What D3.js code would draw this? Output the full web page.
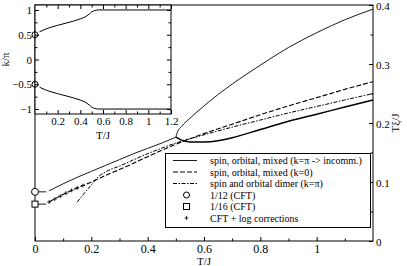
<!DOCTYPE html>
<html>
<head>
<meta charset="utf-8">
<script src="https://cdn.jsdelivr.net/npm/d3@7"></script>
<style>
  body { margin: 0; background: #fff; }
  svg { display: block; }
  svg text { font-family: "Liberation Serif", "Times New Roman", Times, serif; }
  .tick line { stroke: #000; }
  .tick text { fill: #000; }
</style>
</head>
<body>
<div id="chart"></div>
<script>
(function () {

// ---- data ----
// main panel: [T/J, Tξ/J]
const incommLow = [[0.05, 0.085], [0.1, 0.097], [0.15, 0.108], [0.2, 0.118], [0.25, 0.128],
    [0.3, 0.138], [0.35, 0.148], [0.4, 0.157], [0.45, 0.166], [0.5, 0.176]];
const incommUpper = [[0.5, 0.176], [0.505, 0.184], [0.52, 0.194], [0.55, 0.208], [0.6, 0.229],
    [0.7, 0.266], [0.8, 0.298], [0.9, 0.328], [1.0, 0.353], [1.1, 0.375], [1.2, 0.393]];
const incommLower = [[0.5, 0.176], [0.52, 0.171], [0.55, 0.168], [0.6, 0.168], [0.65, 0.170],
    [0.7, 0.175], [0.8, 0.189], [0.9, 0.203], [1.0, 0.215], [1.1, 0.227], [1.2, 0.239]];
const mixedK0 = [[0.05, 0.066], [0.1, 0.079], [0.15, 0.090], [0.2, 0.100], [0.25, 0.111],
    [0.3, 0.121], [0.4, 0.143], [0.5, 0.164], [0.6, 0.182], [0.7, 0.198], [0.8, 0.214],
    [0.9, 0.229], [1.0, 0.243], [1.1, 0.257], [1.2, 0.270]];
const dimerKpi = [[0.15, 0.066], [0.175, 0.081], [0.2, 0.095], [0.225, 0.109], [0.25, 0.117],
    [0.3, 0.127], [0.4, 0.148], [0.5, 0.166], [0.6, 0.180], [0.7, 0.193], [0.8, 0.205],
    [0.9, 0.217], [1.0, 0.228], [1.1, 0.239], [1.2, 0.250]];
const cft12 = [[0, 1 / 12], [0.04, 1 / 12]];
const cft16 = [[0, 1 / 16], [0.04, 1 / 16]];
const cftLog = [[0.05, 0.066], [0.07, 0.071], [0.09, 0.076], [0.11, 0.081], [0.13, 0.086],
    [0.15, 0.090], [0.17, 0.094]];

// inset: [T/J, k/π]
const insetUpper = [[0.04, 0.56], [0.1, 0.62], [0.2, 0.69], [0.3, 0.75], [0.4, 0.82],
    [0.45, 0.87], [0.48, 0.92], [0.5, 0.96], [0.53, 0.99], [0.56, 1.0], [1.2, 1.0]];
const insetCft = [0.5, -0.5];

const mainXTicks = [0, 0.2, 0.4, 0.6, 0.8, 1];
const mainYTicks = [0, 0.1, 0.2, 0.3, 0.4];
const insetXTicks = [0.2, 0.4, 0.6, 0.8, 1, 1.2];
const insetYTicks = [-1, -0.5, 0, 0.5, 1];

const legendLabels = [
    'spin, orbital, mixed (k=\u03c0 -> incomm.)',
    'spin, orbital, mixed (k=0)',
    'spin and orbital dimer (k=\u03c0)',
    '1/12 (CFT)',
    '1/16 (CFT)',
    'CFT + log corrections',
];

// ---- layout ----
const [WIDTH, HEIGHT] = [407, 266];
const MAIN = { left: 35, right: 373, top: 5, bottom: 241 };
const INSET = { left: 35, right: 171, top: 5, bottom: 114 };
const DASH = '5,2';
const DASHDOT = '4,1.5,1.5,1.5';

const svg = d3.select('#chart').append('svg')
    .attr('width', WIDTH)
    .attr('height', HEIGHT)
    .attr('viewBox', `0 0 ${WIDTH} ${HEIGHT}`);

const x = d3.scaleLinear().domain([0, 1.2]).range([MAIN.left, MAIN.right]);
const y = d3.scaleLinear().domain([0, 0.4]).range([MAIN.bottom, MAIN.top]);

const line = d3.line()
    .x((d) => x(d[0]))
    .y((d) => y(d[1]))
    .curve(d3.curveMonotoneX);
const straight = d3.line()
    .x((d) => x(d[0]))
    .y((d) => y(d[1]));

function drawCurve(g, data, gen, width, dash) {
    g.append('path')
        .attr('d', gen(data))
        .attr('fill', 'none')
        .attr('stroke', '#000')
        .attr('stroke-width', width)
        .attr('stroke-dasharray', dash || null);
}

// main frame
svg.append('rect')
    .attr('x', MAIN.left).attr('y', MAIN.top)
    .attr('width', MAIN.right - MAIN.left)
    .attr('height', MAIN.bottom - MAIN.top)
    .attr('fill', '#fff')
    .attr('stroke', '#000');

// bottom axis (inward ticks)
const bottom = svg.append('g')
    .attr('transform', `translate(0,${MAIN.bottom})`)
    .call(d3.axisBottom(x).tickValues(mainXTicks).tickSize(-4).tickPadding(3)
        .tickFormat(d3.format('~g')))
    .attr('font-size', 12).attr('font-family', null);
bottom.select('.domain').remove();
svg.append('g')
    .attr('transform', `translate(0,${MAIN.bottom})`)
    .call(d3.axisBottom(x).tickValues(d3.range(1, 12, 2).map((v) => v / 10))
        .tickSize(-2.5).tickFormat(''))
    .select('.domain').remove();

// right axis
const right = svg.append('g')
    .attr('transform', `translate(${MAIN.right},0)`)
    .call(d3.axisRight(y).tickValues(mainYTicks).tickSize(-4).tickPadding(3)
        .tickFormat(d3.format('~g')))
    .attr('font-size', 11).attr('font-family', null);
right.select('.domain').remove();
right.selectAll('.tick text').attr('dy', '0.4em');
svg.append('g')
    .attr('transform', `translate(${MAIN.right},0)`)
    .call(d3.axisRight(y).tickValues([0.05, 0.15, 0.25, 0.35]).tickSize(-2.5).tickFormat(''))
    .select('.domain').remove();

svg.append('text')
    .attr('x', x(0.6)).attr('y', 265)
    .attr('text-anchor', 'middle')
    .attr('font-size', 11)
    .text('T/J');
svg.append('text')
    .attr('transform', `translate(399,${(MAIN.top + MAIN.bottom) / 2}) rotate(-90)`)
    .attr('text-anchor', 'middle')
    .attr('font-size', 11)
    .text('T\u03be/J');

// curves
const plot = svg.append('g');
drawCurve(plot, incommLow, line, 0.9);
drawCurve(plot, incommUpper, line, 0.9);
drawCurve(plot, incommLower, line, 1.5);
drawCurve(plot, mixedK0, line, 1.1, DASH);
drawCurve(plot, dimerKpi, line, 1, DASHDOT);
drawCurve(plot, cft12, straight, 0.9);
drawCurve(plot, cft16, straight, 0.9);

plot.append('circle')
    .attr('cx', x(cft12[0][0])).attr('cy', y(cft12[0][1])).attr('r', 3.5)
    .attr('fill', '#fff').attr('stroke', '#000');
plot.append('rect')
    .attr('x', x(cft16[0][0]) - 3).attr('y', y(cft16[0][1]) - 3)
    .attr('width', 6).attr('height', 6)
    .attr('fill', '#fff').attr('stroke', '#000');

plot.selectAll('.plus')
    .data(cftLog)
    .enter()
    .append('path')
    .attr('class', 'plus')
    .attr('d', (d) => `M${x(d[0]) - 2},${y(d[1])}h4M${x(d[0])},${y(d[1]) - 2}v4`)
    .attr('stroke', '#000')
    .attr('stroke-width', 0.8);

// legend
const legend = svg.append('g');
legend.append('rect')
    .attr('x', 165.5).attr('y', 153.5)
    .attr('width', 205).attr('height', 74)
    .attr('fill', '#fff').attr('stroke', '#000');
const rowY = (i) => 160.5 + i * 11.5;
const sampleX = [173, 197];
const styles = [
    { w: 0.9 }, { w: 1.1, dash: DASH }, { w: 1, dash: DASHDOT },
    { sym: 'circle' }, { sym: 'square' }, { sym: 'plus' },
];
legendLabels.forEach((label, i) => {
    const cy = rowY(i);
    const s = styles[i];
    if (s.sym === 'circle') {
        legend.append('circle').attr('cx', 186.5).attr('cy', cy).attr('r', 3)
            .attr('fill', 'none').attr('stroke', '#000');
    } else if (s.sym === 'square') {
        legend.append('rect').attr('x', 183.5).attr('y', cy - 3)
            .attr('width', 6).attr('height', 6)
            .attr('fill', 'none').attr('stroke', '#000');
    } else if (s.sym === 'plus') {
        legend.append('path').attr('d', `M184.5,${cy}h4M186.5,${cy - 2}v4`)
            .attr('stroke', '#000').attr('stroke-width', 0.8);
    } else {
        legend.append('line')
            .attr('x1', sampleX[0]).attr('x2', sampleX[1])
            .attr('y1', cy).attr('y2', cy)
            .attr('stroke', '#000').attr('stroke-width', s.w)
            .attr('stroke-dasharray', s.dash || null);
    }
    legend.append('text')
        .attr('x', 210).attr('y', cy)
        .attr('dy', '0.35em')
        .attr('font-size', 10)
        .text(label);
});

// ---- inset ----
const ix = d3.scaleLinear().domain([0, 1.2]).range([INSET.left, INSET.right]);
const iy = d3.scaleLinear().domain([-1.1, 1.1]).range([INSET.bottom, INSET.top]);
const inset = svg.append('g');
inset.append('rect')
    .attr('x', INSET.left).attr('y', INSET.top)
    .attr('width', INSET.right - INSET.left)
    .attr('height', INSET.bottom - INSET.top)
    .attr('fill', '#fff')
    .attr('stroke', '#000');

function insetTicks(axisFn, scale, pos, major, minor, labels) {
    const g = inset.append('g').attr('transform', pos);
    g.call(axisFn(scale).tickValues(major).tickSize(-4).tickPadding(3)
        .tickFormat(labels ? d3.format('~g') : ''))
        .attr('font-size', 11).attr('font-family', null);
    g.select('.domain').remove();
    const m = inset.append('g').attr('transform', pos);
    m.call(axisFn(scale).tickValues(minor).tickSize(-2.5).tickFormat(''));
    m.select('.domain').remove();
}
const ixMinor = d3.range(1, 12, 2).map((v) => v / 10);
const iyMinor = [-0.75, -0.25, 0.25, 0.75];
insetTicks(d3.axisBottom, ix, `translate(0,${INSET.bottom})`, insetXTicks, ixMinor, true);
insetTicks(d3.axisTop, ix, `translate(0,${INSET.top})`, insetXTicks, ixMinor, false);
insetTicks(d3.axisLeft, iy, `translate(${INSET.left},0)`, insetYTicks, iyMinor, true);
insetTicks(d3.axisRight, iy, `translate(${INSET.right},0)`, insetYTicks, iyMinor, false);

inset.append('text')
    .attr('x', ix(0.6)).attr('y', 139)
    .attr('text-anchor', 'middle')
    .attr('font-size', 11)
    .text('T/J');
inset.append('text')
    .attr('transform', `translate(9,${iy(0)}) rotate(-90)`)
    .attr('text-anchor', 'middle')
    .attr('font-size', 11)
    .text('k/\u03c0');

const iline = d3.line()
    .x((d) => ix(d[0]))
    .y((d) => iy(d[1]))
    .curve(d3.curveMonotoneX);
drawCurve(inset, insetUpper, iline, 1);
drawCurve(inset, insetUpper.map((d) => [d[0], -d[1]]), iline, 1);
inset.selectAll('.cft')
    .data(insetCft)
    .enter()
    .append('circle')
    .attr('cx', ix(0)).attr('cy', (d) => iy(d)).attr('r', 3)
    .attr('fill', 'none').attr('stroke', '#000');

})();
</script>
</body>
</html>
